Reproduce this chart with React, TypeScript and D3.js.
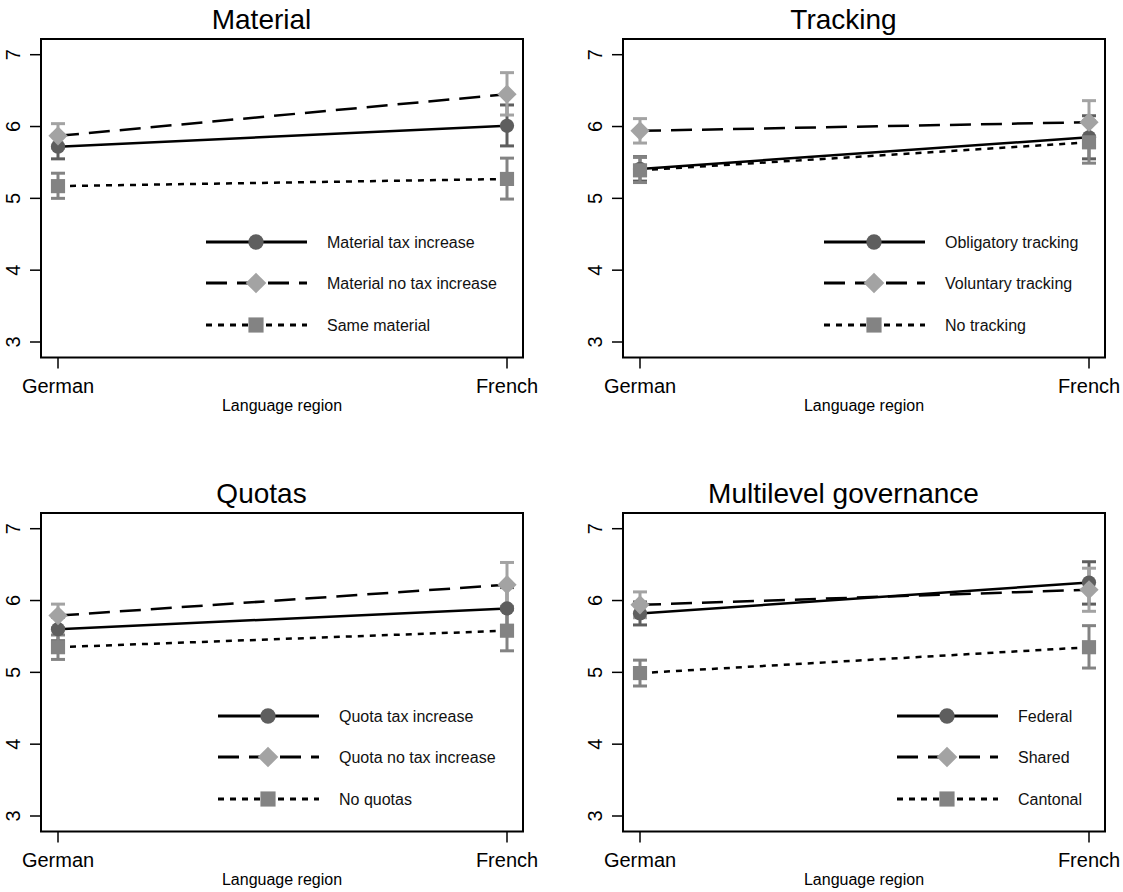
import React, { useEffect, useRef } from 'react';
import * as d3 from 'd3';

// categories and axis
const regions = ['German', 'French'];
const yTicks = [3, 4, 5, 6, 7];
const xAxisTitle = 'Language region';
const panelTitles = ['Material', 'Tracking', 'Quotas', 'Multilevel governance'];

// Material panel: [German, French] per series
const materialLabels = ['Material tax increase', 'Material no tax increase', 'Same material'];
const materialMean = [[5.72, 6.01], [5.87, 6.45], [5.17, 5.27]];
const materialLo = [[5.55, 5.73], [5.70, 6.16], [5.00, 4.99]];
const materialHi = [[5.89, 6.30], [6.04, 6.75], [5.35, 5.56]];

// Tracking panel
const trackingLabels = ['Obligatory tracking', 'Voluntary tracking', 'No tracking'];
const trackingMean = [[5.41, 5.85], [5.94, 6.06], [5.39, 5.78]];
const trackingLo = [[5.24, 5.55], [5.77, 5.77], [5.22, 5.49]];
const trackingHi = [[5.58, 6.15], [6.11, 6.36], [5.57, 6.08]];

// Quotas panel
const quotasLabels = ['Quota tax increase', 'Quota no tax increase', 'No quotas'];
const quotasMean = [[5.60, 5.89], [5.79, 6.22], [5.35, 5.58]];
const quotasLo = [[5.44, 5.60], [5.62, 5.92], [5.18, 5.30]];
const quotasHi = [[5.77, 6.18], [5.95, 6.53], [5.52, 5.87]];

// Multilevel governance panel
const multilevelLabels = ['Federal', 'Shared', 'Cantonal'];
const multilevelMean = [[5.82, 6.25], [5.94, 6.15], [4.99, 5.35]];
const multilevelLo = [[5.66, 5.95], [5.76, 5.85], [4.81, 5.06]];
const multilevelHi = [[5.98, 6.54], [6.12, 6.45], [5.17, 5.65]];

const FONT = "Arial, 'Liberation Sans', Helvetica, sans-serif";

// series styling: circle / diamond / square
const styles = [
  { dash: null, fill: '#5e5e5e', symbol: d3.symbolCircle, size: 160, rotate: 0 },
  { dash: '21,10', fill: '#a3a3a3', symbol: d3.symbolSquare, size: 185, rotate: 45 },
  { dash: '6,6', fill: '#838383', symbol: d3.symbolSquare, size: 200, rotate: 0 },
];

const App = () => {
  const svgRef = useRef<SVGSVGElement>(null);

  useEffect(() => {
    const svg = d3.select(svgRef.current);
    svg.selectAll('*').remove();

    // legendX is measured from the left edge of the plot frame
    const panels = [
      { title: panelTitles[0], labels: materialLabels, mean: materialMean, lo: materialLo, hi: materialHi, legendX: 165 },
      { title: panelTitles[1], labels: trackingLabels, mean: trackingMean, lo: trackingLo, hi: trackingHi, legendX: 201 },
      { title: panelTitles[2], labels: quotasLabels, mean: quotasMean, lo: quotasLo, hi: quotasHi, legendX: 177 },
      { title: panelTitles[3], labels: multilevelLabels, mean: multilevelMean, lo: multilevelLo, hi: multilevelHi, legendX: 274 },
    ];

    const box = { left: 41, right: 523, top: 39, bottom: 357.5 };

    panels.forEach((p, pi) => {
      const dx = (pi % 2) * 582;
      const dy = Math.floor(pi / 2) * 474;
      const g = svg.append('g').attr('transform', `translate(${dx},${dy})`);

      const x = d3.scalePoint().domain(regions).range([58, 507]);
      const y = d3.scaleLinear().domain([3, 7]).range([342, 54.7]);

      // title
      g.append('text')
        .attr('x', box.right / 2)
        .attr('y', 29)
        .attr('text-anchor', 'middle')
        .style('font-family', FONT)
        .style('font-size', '28px')
        .text(p.title);

      // plot frame
      g.append('rect')
        .attr('x', box.left)
        .attr('y', box.top)
        .attr('width', box.right - box.left)
        .attr('height', box.bottom - box.top)
        .attr('fill', 'none')
        .attr('stroke', '#000')
        .attr('stroke-width', 2);

      // y ticks + labels
      yTicks.forEach((t) => {
        g.append('line')
          .attr('x1', box.left - 11).attr('x2', box.left)
          .attr('y1', y(t)).attr('y2', y(t))
          .attr('stroke', '#000').attr('stroke-width', 1.5);
        g.append('text')
          .attr('transform', `translate(${box.left - 21},${y(t)}) rotate(-90)`)
          .attr('text-anchor', 'middle')
          .style('font-family', FONT)
          .style('font-size', '20px')
          .text(t);
      });

      // x ticks + labels
      regions.forEach((r) => {
        g.append('line')
          .attr('x1', x(r)).attr('x2', x(r))
          .attr('y1', box.bottom).attr('y2', box.bottom + 11)
          .attr('stroke', '#000').attr('stroke-width', 1.5);
        g.append('text')
          .attr('x', x(r))
          .attr('y', box.bottom + 35.5)
          .attr('text-anchor', 'middle')
          .style('font-family', FONT)
          .style('font-size', '20px')
          .text(r);
      });

      g.append('text')
        .attr('x', (box.left + box.right) / 2)
        .attr('y', box.bottom + 53)
        .attr('text-anchor', 'middle')
        .style('font-family', FONT)
        .style('font-size', '16px')
        .text(xAxisTitle);

      const line = d3.line<number>().x((_, i) => x(regions[i])).y((d) => y(d));

      // error bars
      p.mean.forEach((_, si) => {
        const st = styles[si];
        regions.forEach((r, ri) => {
          const cx = x(r);
          const lo = y(p.lo[si][ri]);
          const hi = y(p.hi[si][ri]);
          g.append('line').attr('x1', cx).attr('x2', cx).attr('y1', lo).attr('y2', hi)
            .attr('stroke', st.fill).attr('stroke-width', 3);
          [lo, hi].forEach((cy) => {
            g.append('line').attr('x1', cx - 7).attr('x2', cx + 7).attr('y1', cy).attr('y2', cy)
              .attr('stroke', st.fill).attr('stroke-width', 3);
          });
        });
      });

      // connecting lines
      p.mean.forEach((vals, si) => {
        const st = styles[si];
        g.append('path')
          .attr('d', line(vals))
          .attr('fill', 'none')
          .attr('stroke', '#000')
          .attr('stroke-width', 2.5)
          .attr('stroke-dasharray', st.dash);
      });

      // markers
      p.mean.forEach((vals, si) => {
        const st = styles[si];
        const sym = d3.symbol().type(st.symbol).size(st.size);
        vals.forEach((v, ri) => {
          g.append('path')
            .attr('d', sym())
            .attr('transform', `translate(${x(regions[ri])},${y(v)}) rotate(${st.rotate})`)
            .attr('fill', st.fill);
        });
      });

      // legend
      const rowsY = [box.top + 203, box.top + 244, box.top + 286];
      p.labels.forEach((lab, si) => {
        const st = styles[si];
        const ly = rowsY[si];
        const lx = box.left + p.legendX;
        g.append('line')
          .attr('x1', lx).attr('x2', lx + 101)
          .attr('y1', ly).attr('y2', ly)
          .attr('stroke', '#000').attr('stroke-width', 3)
          .attr('stroke-dasharray', st.dash);
        g.append('path')
          .attr('d', d3.symbol().type(st.symbol).size(st.size * 1.15)())
          .attr('transform', `translate(${lx + 50},${ly}) rotate(${st.rotate})`)
          .attr('fill', st.fill);
        g.append('text')
          .attr('x', lx + 121)
          .attr('y', ly)
          .attr('dy', '0.35em')
          .style('font-family', FONT)
          .style('font-size', '16px')
          .attr('fill', '#111')
          .text(lab);
      });
    });
  }, []);

  return (
    <svg
      ref={svgRef}
      width={1123}
      height={892}
      style={{ position: 'absolute', left: 0, top: 0, background: '#fff' }}
    ></svg>
  );
};

export default App;
